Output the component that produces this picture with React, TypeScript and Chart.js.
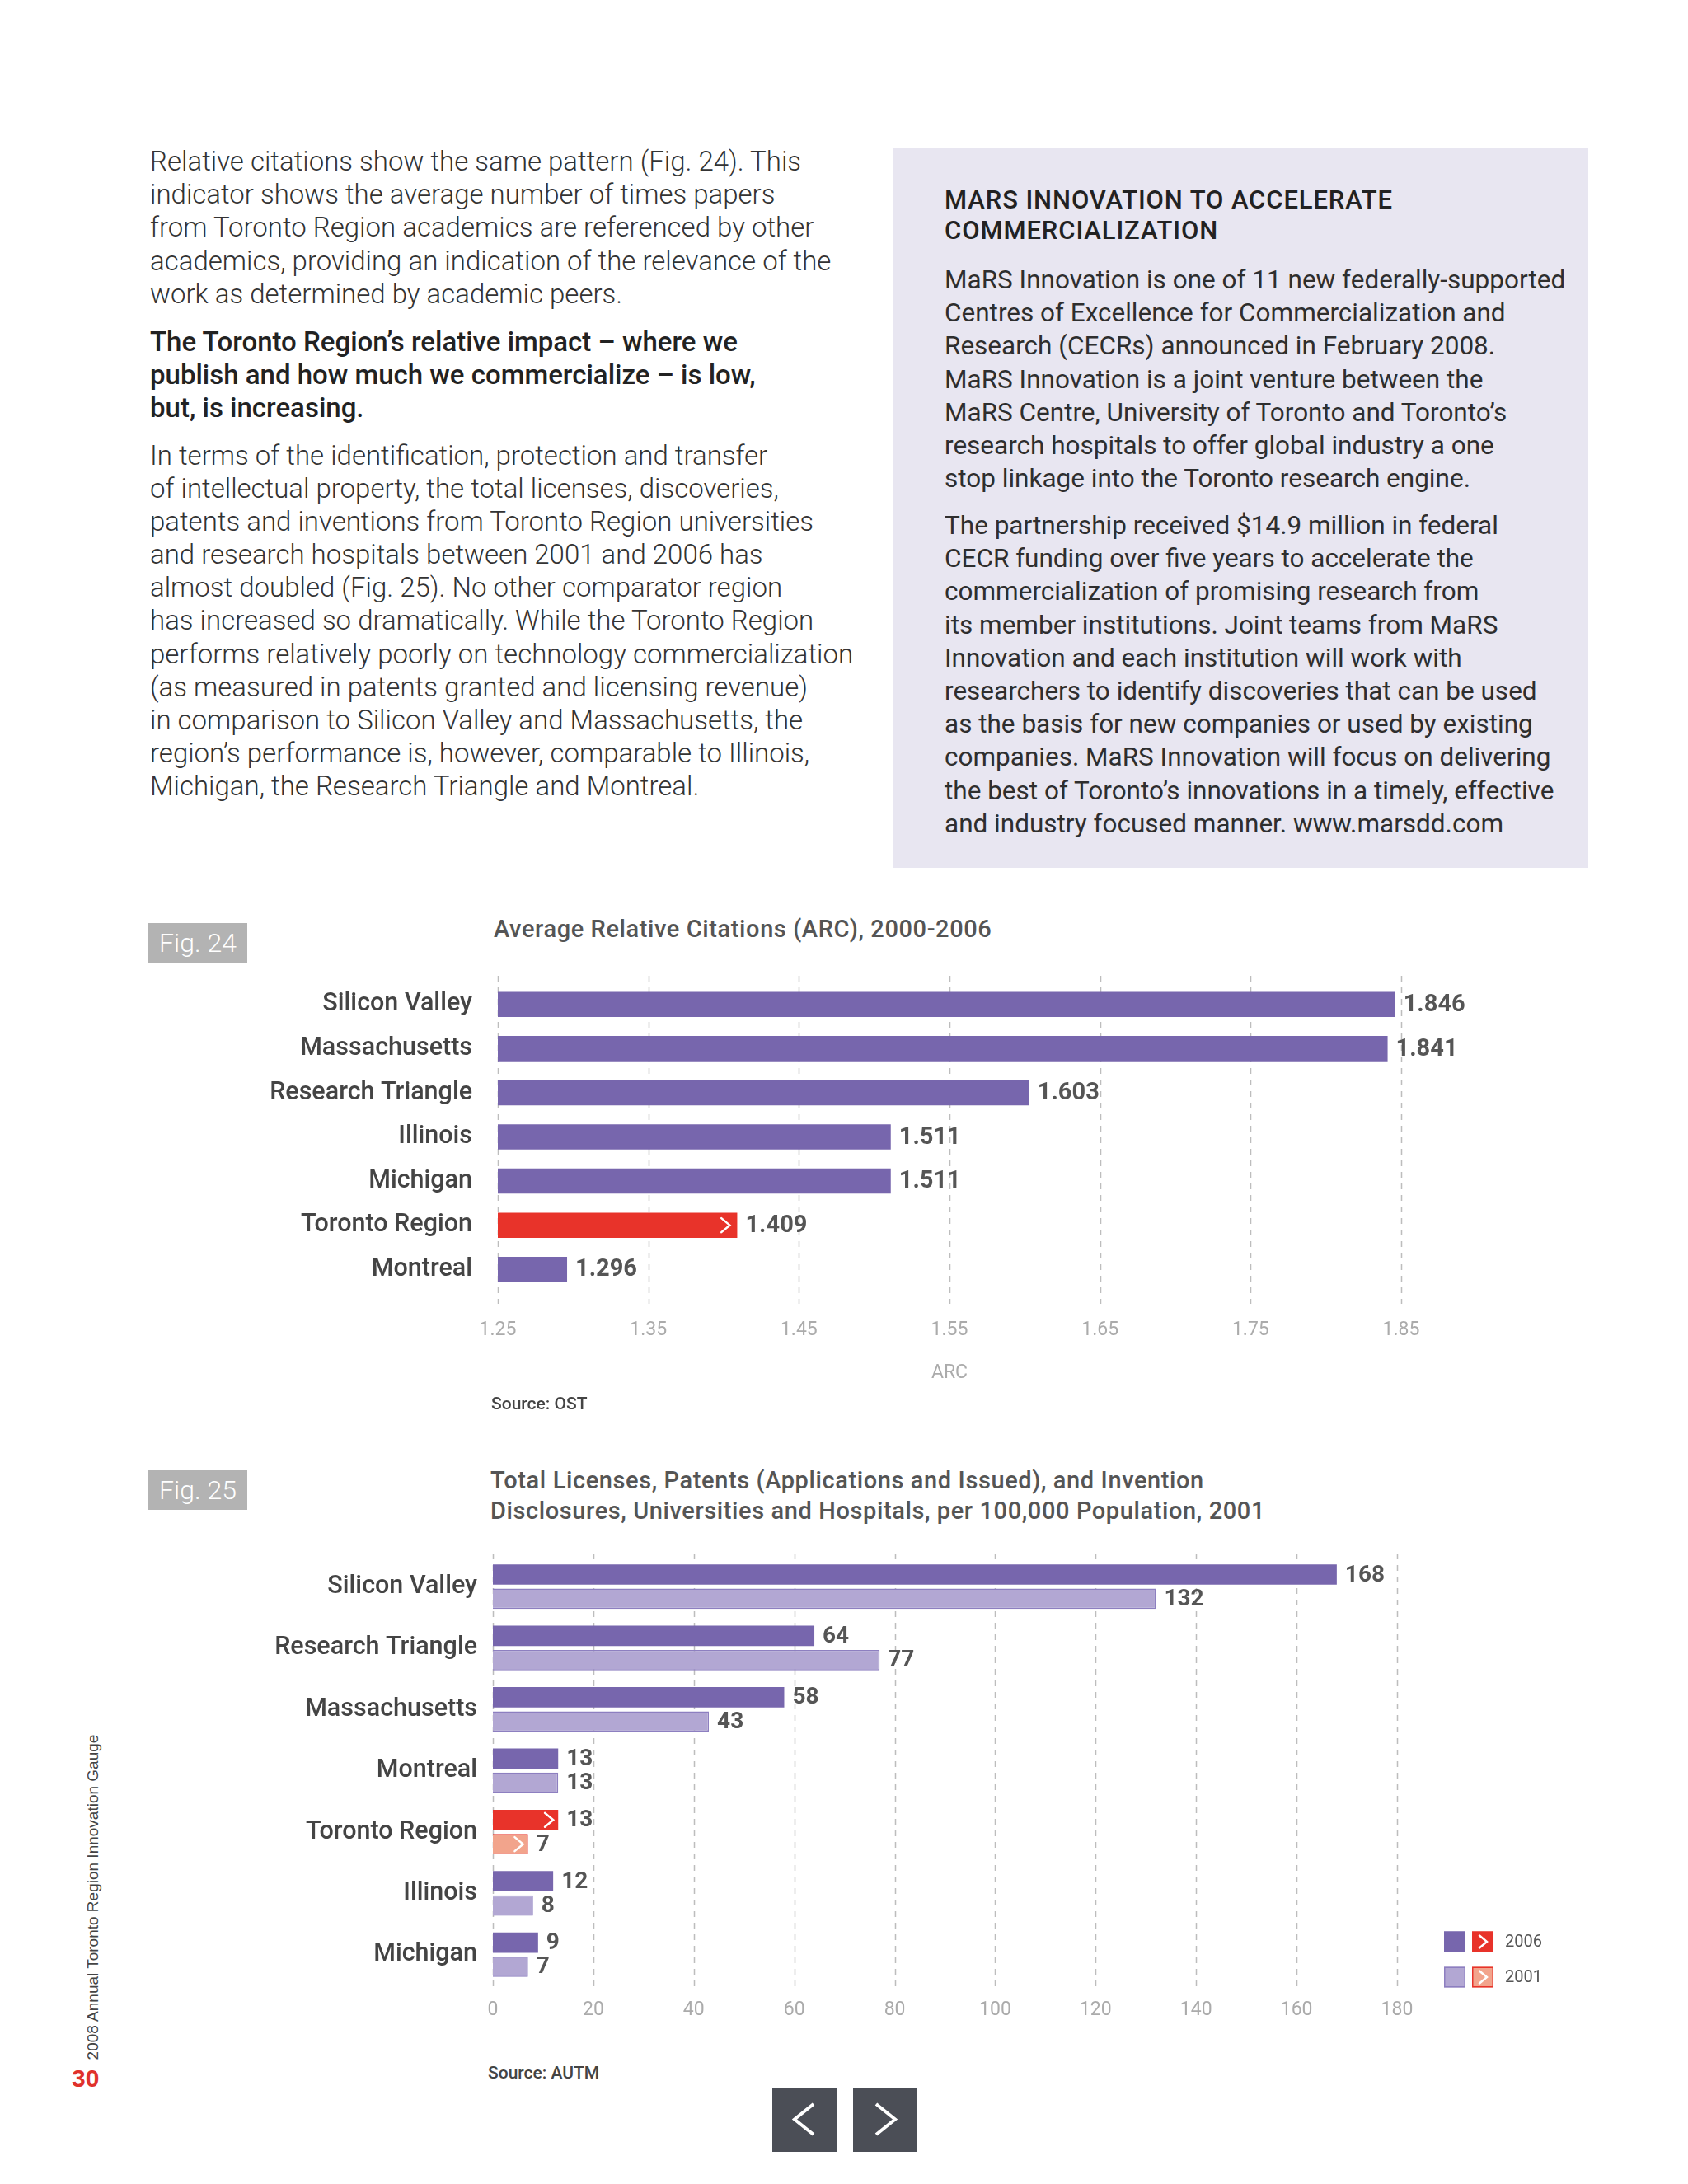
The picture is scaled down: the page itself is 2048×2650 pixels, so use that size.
import React, { useEffect, useRef } from "react";
import { Chart, registerables } from "chart.js";

Chart.register(...registerables);

// ---------- Data ----------
const ARC_CATEGORIES = [
  "Silicon Valley",
  "Massachusetts",
  "Research Triangle",
  "Illinois",
  "Michigan",
  "Toronto Region",
  "Montreal",
];
const ARC_VALUES = [1.846, 1.841, 1.603, 1.511, 1.511, 1.409, 1.296];
const ARC_TICKS = [1.25, 1.35, 1.45, 1.55, 1.65, 1.75, 1.85];
const ARC_AXIS_TITLE = "ARC";

const LIC_CATEGORIES = [
  "Silicon Valley",
  "Research Triangle",
  "Massachusetts",
  "Montreal",
  "Toronto Region",
  "Illinois",
  "Michigan",
];
const LIC_SERIES = ["2006", "2001"];
const LIC_2006 = [168, 64, 58, 13, 13, 12, 9];
const LIC_2001 = [132, 77, 43, 13, 7, 8, 7];
const LIC_TICKS = [0, 20, 40, 60, 80, 100, 120, 140, 160, 180];

const HIGHLIGHT = "Toronto Region";

// ---------- Styles ----------
const PURPLE = "#7766ad";
const LIGHT_PURPLE = "#b2a7d3";
const LIGHT_PURPLE_BORDER = "#8d7fc0";
const RED = "#e8332a";
const SALMON = "#f2a48c";
const CHART_FONT = "Roboto, 'Liberation Sans', sans-serif";

const dashedGrid = {
  id: "dashedGrid",
  beforeDatasetsDraw(chart: any, _args: any, opts: any) {
    const { ctx, chartArea, scales } = chart;
    const xs = scales.x;
    ctx.save();
    ctx.strokeStyle = "#bdbdbd";
    ctx.lineWidth = 1.5;
    ctx.setLineDash([7, 7]);
    xs.ticks.forEach((t: any) => {
      const px = Math.round(xs.getPixelForValue(t.value)) + 0.5;
      ctx.beginPath();
      ctx.moveTo(px, chartArea.top - opts.above);
      ctx.lineTo(px, chartArea.bottom + opts.below);
      ctx.stroke();
    });
    ctx.restore();
  },
};

const valueLabels = {
  id: "valueLabels",
  afterDatasetsDraw(chart: any, _args: any, opts: any) {
    const { ctx } = chart;
    ctx.save();
    ctx.font = `700 ${opts.size}px ${CHART_FONT}`;
    ctx.fillStyle = "#555555";
    ctx.textBaseline = "middle";
    ctx.textAlign = "left";
    chart.data.datasets.forEach((ds: any, di: number) => {
      const meta = chart.getDatasetMeta(di);
      meta.data.forEach((bar: any, i: number) => {
        ctx.fillText(opts.format(ds.data[i]), bar.x + opts.offset, bar.y + 1);
      });
    });
    ctx.restore();
  },
};

function drawChevron(ctx: any, tipX: number, cy: number, h: number) {
  ctx.save();
  ctx.strokeStyle = "#ffffff";
  ctx.lineWidth = 2.5;
  ctx.lineCap = "round";
  ctx.lineJoin = "miter";
  ctx.beginPath();
  ctx.moveTo(tipX - h * 0.6, cy - h / 2);
  ctx.lineTo(tipX, cy);
  ctx.lineTo(tipX - h * 0.6, cy + h / 2);
  ctx.stroke();
  ctx.restore();
}

const chevrons = {
  id: "chevrons",
  afterDatasetsDraw(chart: any, _args: any, opts: any) {
    const { ctx } = chart;
    const idx = chart.data.labels.indexOf(HIGHLIGHT);
    if (idx < 0) return;
    chart.data.datasets.forEach((_ds: any, di: number) => {
      const bar = chart.getDatasetMeta(di).data[idx];
      if (bar) drawChevron(ctx, bar.x - opts.inset, bar.y, opts.h);
    });
  },
};

const customLegend = {
  id: "customLegend",
  afterDraw(chart: any, _args: any, opts: any) {
    if (!opts || !opts.show) return;
    const { ctx, chartArea } = chart;
    const rows = [
      { fill: PURPLE, border: PURPLE, hi: RED, hiBorder: RED, label: chart.data.datasets[0].label, dy: -53 },
      { fill: LIGHT_PURPLE, border: LIGHT_PURPLE_BORDER, hi: SALMON, hiBorder: RED, label: chart.data.datasets[1].label, dy: -10 },
    ];
    ctx.save();
    rows.forEach((r) => {
      const cy = chartArea.bottom + r.dy;
      const x0 = chartArea.right + 57;
      ctx.fillStyle = r.fill;
      ctx.fillRect(x0, cy - 12.5, 26, 25);
      ctx.strokeStyle = r.border;
      ctx.lineWidth = 1.5;
      ctx.strokeRect(x0 + 0.75, cy - 11.75, 24.5, 23.5);
      const x1 = chartArea.right + 91;
      ctx.fillStyle = r.hi;
      ctx.fillRect(x1, cy - 12.5, 26, 25);
      ctx.strokeStyle = r.hiBorder;
      ctx.strokeRect(x1 + 0.75, cy - 11.75, 24.5, 23.5);
      drawChevron(ctx, x1 + 18, cy, 15);
      ctx.fillStyle = "#555555";
      ctx.font = `400 20px ${CHART_FONT}`;
      ctx.textBaseline = "middle";
      ctx.textAlign = "left";
      ctx.fillText(r.label, chartArea.right + 131, cy + 1);
    });
    ctx.restore();
  },
};

function ArcChart() {
  const ref = useRef<HTMLCanvasElement>(null);
  useEffect(() => {
    const colors = ARC_CATEGORIES.map((c) => (c === HIGHLIGHT ? RED : PURPLE));
    const chart = new Chart(ref.current as HTMLCanvasElement, {
      type: "bar",
      data: {
        labels: ARC_CATEGORIES,
        datasets: [
          {
            label: "ARC",
            data: ARC_VALUES,
            backgroundColor: colors,
            borderWidth: 0,
            categoryPercentage: 1,
            barPercentage: 0.57,
          },
        ],
      },
      options: {
        indexAxis: "y",
        animation: false,
        responsive: false,
        devicePixelRatio: 1,
        layout: { padding: { top: 42, right: 100, left: 0, bottom: 0 } },
        plugins: {
          legend: { display: false },
          tooltip: { enabled: false },
          dashedGrid: { above: 8, below: 15 },
          valueLabels: { size: 29, offset: 10, format: (v: number) => v.toFixed(3) },
          chevrons: { inset: 9, h: 17 },
        } as any,
        scales: {
          x: {
            type: "linear",
            min: ARC_TICKS[0],
            max: ARC_TICKS[ARC_TICKS.length - 1],
            afterBuildTicks: (s: any) => {
              s.ticks = ARC_TICKS.map((v) => ({ value: v }));
            },
            afterFit: (s: any) => {
              s.height = 143;
              s.paddingLeft = 0;
              s.paddingRight = 0;
            },
            grid: { display: false, drawTicks: false },
            border: { display: false },
            ticks: {
              padding: 33,
              color: "#ababab",
              font: { family: CHART_FONT, size: 23, weight: "400" },
              callback: (v: any) => Number(v).toFixed(2),
            },
            title: {
              display: true,
              text: ARC_AXIS_TITLE,
              color: "#ababab",
              font: { family: CHART_FONT, size: 23, weight: "400" },
              padding: { top: 0, bottom: 30 },
            },
          },
          y: {
            afterFit: (s: any) => {
              s.width = 304;
              s.paddingTop = 0;
              s.paddingBottom = 0;
            },
            grid: { display: false, drawTicks: false },
            border: { display: false },
            ticks: {
              padding: 31,
              color: "#444444",
              font: { family: CHART_FONT, size: 30.5, weight: "500" },
            },
          },
        },
      } as any,
      plugins: [dashedGrid, valueLabels, chevrons],
    });
    return () => chart.destroy();
  }, []);
  return (
    <canvas
      ref={ref}
      width={1500}
      height={560}
      style={{ position: "absolute", left: 300, top: 1150, width: 1500, height: 560 }}
    />
  );
}

function LicenseChart() {
  const ref = useRef<HTMLCanvasElement>(null);
  useEffect(() => {
    const c06 = LIC_CATEGORIES.map((c) => (c === HIGHLIGHT ? RED : PURPLE));
    const c01 = LIC_CATEGORIES.map((c) => (c === HIGHLIGHT ? SALMON : LIGHT_PURPLE));
    const b01 = LIC_CATEGORIES.map((c) => (c === HIGHLIGHT ? RED : LIGHT_PURPLE_BORDER));
    const chart = new Chart(ref.current as HTMLCanvasElement, {
      type: "bar",
      data: {
        labels: LIC_CATEGORIES,
        datasets: [
          {
            label: LIC_SERIES[0],
            data: LIC_2006,
            backgroundColor: c06,
            borderWidth: 0,
            categoryPercentage: 0.79,
            barPercentage: 0.84,
          },
          {
            label: LIC_SERIES[1],
            data: LIC_2001,
            backgroundColor: c01,
            borderColor: b01,
            borderWidth: 1.5,
            categoryPercentage: 0.79,
            barPercentage: 0.84,
          },
        ],
      },
      options: {
        indexAxis: "y",
        animation: false,
        responsive: false,
        devicePixelRatio: 1,
        layout: { padding: { top: 28, right: 200, left: 0, bottom: 0 } },
        plugins: {
          legend: { display: false },
          tooltip: { enabled: false },
          dashedGrid: { above: 3, below: 8 },
          valueLabels: { size: 28, offset: 10, format: (v: number) => String(v) },
          chevrons: { inset: 6, h: 17 },
          customLegend: { show: true },
        } as any,
        scales: {
          x: {
            type: "linear",
            min: LIC_TICKS[0],
            max: LIC_TICKS[LIC_TICKS.length - 1],
            afterBuildTicks: (s: any) => {
              s.ticks = LIC_TICKS.map((v) => ({ value: v }));
            },
            afterFit: (s: any) => {
              s.height = 60;
              s.paddingLeft = 0;
              s.paddingRight = 0;
            },
            grid: { display: false, drawTicks: false },
            border: { display: false },
            ticks: {
              padding: 16,
              color: "#ababab",
              font: { family: CHART_FONT, size: 23, weight: "400" },
            },
          },
          y: {
            afterFit: (s: any) => {
              s.width = 298;
              s.paddingTop = 0;
              s.paddingBottom = 0;
            },
            grid: { display: false, drawTicks: false },
            border: { display: false },
            ticks: {
              padding: 19,
              color: "#444444",
              font: { family: CHART_FONT, size: 30.5, weight: "500" },
            },
          },
        },
      } as any,
      plugins: [dashedGrid, valueLabels, chevrons, customLegend],
    });
    return () => chart.destroy();
  }, []);
  return (
    <canvas
      ref={ref}
      width={1595}
      height={609}
      style={{ position: "absolute", left: 300, top: 1860, width: 1595, height: 609 }}
    />
  );
}

// ---------- Page text ----------
function Lines(props: {
  x: number;
  y: number;
  lh: number;
  lines: string[];
  style: React.CSSProperties;
}) {
  return (
    <>
      {props.lines.map((t, i) => (
        <div
          key={i}
          style={{
            position: "absolute",
            left: props.x,
            top: props.y + i * props.lh - props.lh / 2,
            height: props.lh,
            lineHeight: props.lh + "px",
            whiteSpace: "nowrap",
            ...props.style,
          }}
        >
          {t}
        </div>
      ))}
    </>
  );
}

const BODY_FONT = "Roboto, 'Liberation Sans', sans-serif";

const bodyStyle: React.CSSProperties = {
  fontFamily: BODY_FONT,
  fontWeight: 300,
  fontSize: 33,
  color: "#333333",
  letterSpacing: "0px",
};

const boxStyle: React.CSSProperties = {
  fontFamily: BODY_FONT,
  fontWeight: 400,
  fontSize: 31.5,
  color: "#2e2e2e",
  letterSpacing: "0px",
};

function NavButton(props: { x: number; dir: "left" | "right" }) {
  const pts = props.dir === "left" ? "50,20 27,38.5 50,57" : "28,20 51,38.5 28,57";
  return (
    <div
      style={{
        position: "absolute",
        left: props.x,
        top: 2533,
        width: 78,
        height: 78,
        background: "#4b4e56",
      }}
    >
      <svg width="78" height="78">
        <polyline points={pts} fill="none" stroke="#ffffff" strokeWidth="4" />
      </svg>
    </div>
  );
}

function FigBox(props: { y: number; text: string }) {
  return (
    <div
      style={{
        position: "absolute",
        left: 180,
        top: props.y,
        width: 120,
        height: 48,
        background: "#b3b3b3",
        color: "#ffffff",
        fontFamily: BODY_FONT,
        fontWeight: 300,
        fontSize: 32,
        lineHeight: "48px",
        textAlign: "center",
      }}
    >
      {props.text}
    </div>
  );
}

export default function App() {
  const titleStyle: React.CSSProperties = {
    fontFamily: CHART_FONT,
    fontWeight: 500,
    fontSize: 29,
    color: "#555555",
    letterSpacing: "0.6px",
  };
  const sourceStyle: React.CSSProperties = {
    fontFamily: CHART_FONT,
    fontWeight: 500,
    fontSize: 21,
    color: "#444444",
  };
  return (
    <div
      style={{
        position: "absolute",
        left: 0,
        top: 0,
        width: 2048,
        height: 2650,
        overflow: "hidden",
        background: "#ffffff",
      }}
    >
      <Lines
        x={182}
        y={196}
        lh={40.3}
        style={bodyStyle}
        lines={[
          "Relative citations show the same pattern (Fig. 24). This",
          "indicator shows the average number of times papers",
          "from Toronto Region academics are referenced by other",
          "academics, providing an indication of the relevance of the",
          "work as determined by academic peers.",
        ]}
      />
      <Lines
        x={182}
        y={415}
        lh={40}
        style={{ ...bodyStyle, fontWeight: 500, color: "#222222" }}
        lines={[
          "The Toronto Region’s relative impact – where we",
          "publish and how much we commercialize – is low,",
          "but, is increasing.",
        ]}
      />
      <Lines
        x={182}
        y={553}
        lh={40.1}
        style={bodyStyle}
        lines={[
          "In terms of the identification, protection and transfer",
          "of intellectual property, the total licenses, discoveries,",
          "patents and inventions from Toronto Region universities",
          "and research hospitals between 2001 and 2006 has",
          "almost doubled (Fig. 25). No other comparator region",
          "has increased so dramatically. While the Toronto Region",
          "performs relatively poorly on technology commercialization",
          "(as measured in patents granted and licensing revenue)",
          "in comparison to Silicon Valley and Massachusetts, the",
          "region’s performance is, however, comparable to Illinois,",
          "Michigan, the Research Triangle and Montreal.",
        ]}
      />

      <div
        style={{
          position: "absolute",
          left: 1084,
          top: 180,
          width: 843,
          height: 873,
          background: "#e8e6f1",
        }}
      />
      <Lines
        x={1146}
        y={242}
        lh={37}
        style={{ ...boxStyle, fontSize: 31, fontWeight: 500, color: "#222222", letterSpacing: "0.9px" }}
        lines={["MARS INNOVATION TO ACCELERATE", "COMMERCIALIZATION"]}
      />
      <Lines
        x={1146}
        y={340}
        lh={40.2}
        style={boxStyle}
        lines={[
          "MaRS Innovation is one of 11 new federally-supported",
          "Centres of Excellence for Commercialization and",
          "Research (CECRs) announced in February 2008.",
          "MaRS Innovation is a joint venture between the",
          "MaRS Centre, University of Toronto and Toronto’s",
          "research hospitals to offer global industry a one",
          "stop linkage into the Toronto research engine.",
        ]}
      />
      <Lines
        x={1146}
        y={638}
        lh={40.2}
        style={boxStyle}
        lines={[
          "The partnership received $14.9 million in federal",
          "CECR funding over five years to accelerate the",
          "commercialization of promising research from",
          "its member institutions. Joint teams from MaRS",
          "Innovation and each institution will work with",
          "researchers to identify discoveries that can be used",
          "as the basis for new companies or used by existing",
          "companies. MaRS Innovation will focus on delivering",
          "the best of Toronto’s innovations in a timely, effective",
          "and industry focused manner. www.marsdd.com",
        ]}
      />

      <FigBox y={1120} text="Fig. 24" />
      <Lines x={599} y={1127} lh={34} style={titleStyle} lines={["Average Relative Citations (ARC), 2000-2006"]} />
      <ArcChart />
      <Lines x={596} y={1703} lh={26} style={sourceStyle} lines={["Source: OST"]} />

      <FigBox y={1784} text="Fig. 25" />
      <Lines
        x={595}
        y={1796}
        lh={37}
        style={titleStyle}
        lines={[
          "Total Licenses, Patents (Applications and Issued), and Invention",
          "Disclosures, Universities and Hospitals, per 100,000 Population, 2001",
        ]}
      />
      <LicenseChart />
      <Lines x={592} y={2515} lh={26} style={sourceStyle} lines={["Source: AUTM"]} />

      <NavButton x={937} dir="left" />
      <NavButton x={1035} dir="right" />

      <div
        style={{
          position: "absolute",
          left: 113 - 210,
          top: 2302 - 12,
          width: 420,
          height: 24,
          lineHeight: "24px",
          transform: "rotate(-90deg)",
          transformOrigin: "50% 50%",
          textAlign: "center",
          fontFamily: "'Liberation Sans', Arial, sans-serif",
          fontSize: 19,
          color: "#444444",
          whiteSpace: "nowrap",
        }}
      >
        2008 Annual Toronto Region Innovation Gauge
      </div>
      <div
        style={{
          position: "absolute",
          left: 87,
          top: 2505,
          height: 34,
          lineHeight: "34px",
          fontFamily: "'Liberation Sans', Arial, sans-serif",
          fontWeight: 700,
          fontSize: 30,
          color: "#e0312b",
        }}
      >
        30
      </div>
    </div>
  );
}
